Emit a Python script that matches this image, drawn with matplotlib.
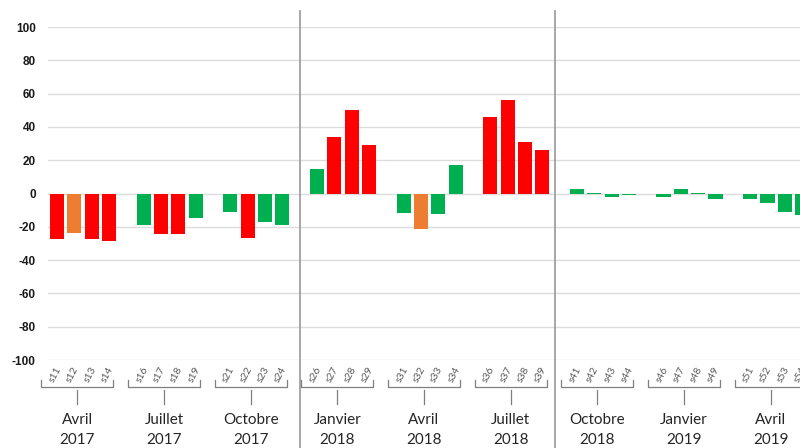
import matplotlib
matplotlib.use("Agg")
import matplotlib.pyplot as plt
from matplotlib.transforms import blended_transform_factory

# Weekly balance values, grouped by quarter (4 weeks per group)
groups = ["Avril\n2017", "Juillet\n2017", "Octobre\n2017",
          "Janvier\n2018", "Avril\n2018", "Juillet\n2018",
          "Octobre\n2018", "Janvier\n2019", "Avril\n2019"]
weeks = [["S11", "S12", "S13", "S14"], ["S16", "S17", "S18", "S19"],
         ["S21", "S22", "S23", "S24"], ["S26", "S27", "S28", "S29"],
         ["S31", "S32", "S33", "S34"], ["S36", "S37", "S38", "S39"],
         ["S41", "S42", "S43", "S44"], ["S46", "S47", "S48", "S49"],
         ["S51", "S52", "S53", "S54"]]
values = [[-27.5, -23.5, -27.5, -28.7], [-18.8, -24.6, -24.6, -15],
          [-11, -27, -17, -19], [15, 34, 50, 29],
          [-11.6, -21.6, -12.6, 17], [46, 56, 31, 26],
          [3, 0.6, -2.4, -1], [-2, 3, 0.6, -3.4],
          [-3.4, -6, -11.4, -13]]
levels = [["r", "o", "r", "r"], ["g", "r", "r", "g"],
          ["g", "r", "g", "g"], ["g", "r", "r", "r"],
          ["g", "o", "g", "g"], ["r", "r", "r", "r"],
          ["g", "g", "g", "g"], ["g", "g", "g", "g"],
          ["g", "g", "g", "g"]]
palette = {"r": "#FF0000", "o": "#ED7D31", "g": "#00B050"}
yticks = [-100, -80, -60, -40, -20, 0, 20, 40, 60, 80, 100]

W, H = 800, 448
fig = plt.figure(figsize=(W / 100, H / 100), dpi=100)

slot_px = 17.33
x0_px = 48.3
n_slots = 47
ax = fig.add_axes([x0_px / W, (H - 360) / H, n_slots * slot_px / W, 333 / H])
ax.set_xlim(-0.5, n_slots - 0.5)
ax.set_ylim(-100, 100)

# one empty slot between consecutive groups
xs, hs, cs, labs = [], [], [], []
for gi in range(len(groups)):
    for k in range(4):
        xs.append(gi * 5 + k)
        hs.append(values[gi][k])
        cs.append(palette[levels[gi][k]])
        labs.append(weeks[gi][k])

ax.bar(xs, hs, width=0.81, color=cs, zorder=3)

ax.set_yticks(yticks)
ax.set_yticklabels([str(v) for v in yticks], fontfamily="Liberation Sans",
                   fontweight="bold", fontsize=8.5, color="#1A1A1A")
ax.tick_params(axis="y", length=0, pad=9)
ax.set_xticks([])
ax.grid(axis="y", color="#DCDCDC", linewidth=1, zorder=0)
for s in ax.spines.values():
    s.set_visible(False)

tr = blended_transform_factory(ax.transData, fig.transFigure)

def fy(ypx):
    return 1 - ypx / H

# week labels
for x, lab in zip(xs, labs):
    ax.text(x - 0.1, fy(375), lab.lower(), transform=tr, rotation=62,
            ha="center", va="center", fontsize=7.5, color="#595959",
            fontfamily="Lato")

# group brackets and labels
off = -0.32
half = 2.08
for gi, g in enumerate(groups):
    c = gi * 5 + 1.5 + off
    kw = dict(transform=tr, clip_on=False, color="#7F7F7F", linewidth=0.9)
    ax.plot([c - half, c - half, c + half, c + half],
            [fy(380), fy(387), fy(387), fy(380)], **kw)
    ax.plot([c, c], [fy(390), fy(404)], **kw)
    month, year = g.split("\n")
    ax.text(c, fy(420), month, transform=tr, ha="center", va="center",
            fontsize=11, color="#262626", fontfamily="Lato")
    ax.text(c, fy(440), year, transform=tr, ha="center", va="center",
            fontsize=11, color="#262626", fontfamily="Lato")

# separators between years
for sx in [14.0, 28.74]:
    ax.plot([sx, sx], [fy(11), 0], transform=tr, clip_on=False,
            color="#A0A0A0", linewidth=1.3, zorder=4)

fig.savefig("out.png", dpi=100)
